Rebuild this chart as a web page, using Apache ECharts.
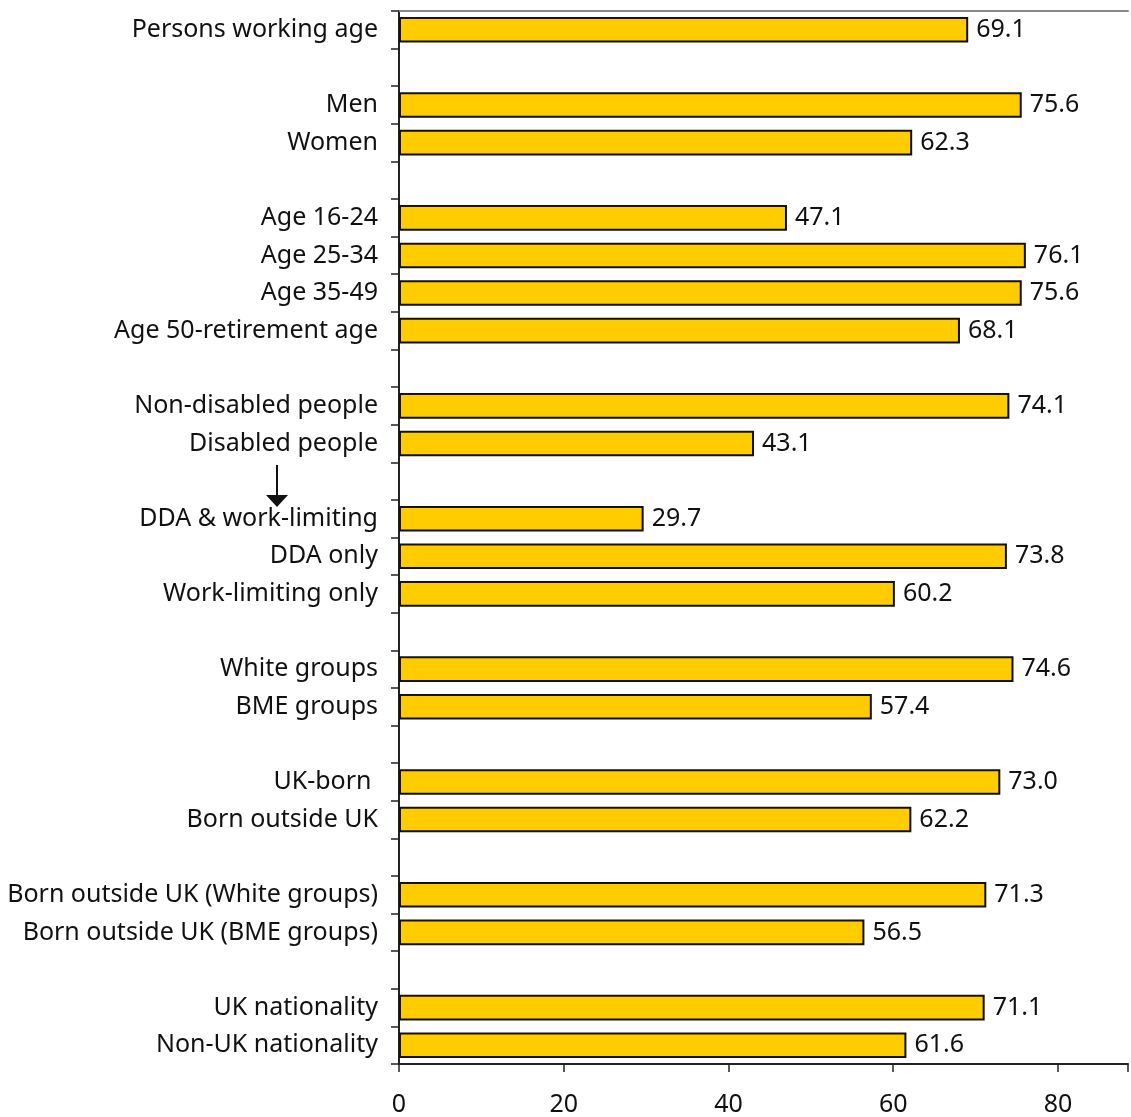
<!DOCTYPE html>
<html>
<head>
<meta charset="utf-8">
<script src="https://cdn.jsdelivr.net/npm/echarts@6/dist/echarts.min.js"></script>
<style>
html,body{margin:0;padding:0;background:#fff;}
#c{width:1131px;height:1117px;}
</style>
</head>
<body>
<div id="c"></div>
<script>
// Categories (empty strings are spacer rows between groups)
const categories = [
  'Persons working age', '',
  'Men', 'Women', '',
  'Age 16-24', 'Age 25-34', 'Age 35-49', 'Age 50-retirement age', '',
  'Non-disabled people', 'Disabled people', '',
  'DDA & work-limiting', 'DDA only', 'Work-limiting only', '',
  'White groups', 'BME groups', '',
  'UK-born ', 'Born outside UK', '',
  'Born outside UK (White groups)', 'Born outside UK (BME groups)', '',
  'UK nationality', 'Non-UK nationality'
];
const values = [
  69.1, null,
  75.6, 62.3, null,
  47.1, 76.1, 75.6, 68.1, null,
  74.1, 43.1, null,
  29.7, 73.8, 60.2, null,
  74.6, 57.4, null,
  73.0, 62.2, null,
  71.3, 56.5, null,
  71.1, 61.6
];
const xTicks = [0, 20, 40, 60, 80];

const FONT = 'Noto Sans';
const chart = echarts.init(document.getElementById('c'), null, {renderer: 'canvas'});
chart.setOption({
  animation: false,
  backgroundColor: '#fff',
  grid: {left: 399, right: 0, top: 11, bottom: 51, containLabel: false},
  xAxis: [{
    type: 'value', min: 0, max: 88.5, interval: 20, position: 'bottom',
    axisLine: {show: true, lineStyle: {color: '#222', width: 2}},
    axisTick: {show: true, length: 8, lineStyle: {color: '#222', width: 1.5}},
    axisLabel: {
      margin: 28, color: '#111', fontFamily: FONT, fontSize: 25,
      formatter: v => xTicks.indexOf(v) >= 0 ? String(v) : ''
    },
    splitLine: {show: false}
  }, {
    type: 'value', min: 0, max: 88.5, position: 'top',
    axisLine: {show: true, lineStyle: {color: '#888', width: 2}},
    axisTick: {show: false}, axisLabel: {show: false}, splitLine: {show: false}
  }],
  yAxis: {
    type: 'category', data: categories, inverse: true,
    axisLine: {show: true, lineStyle: {color: '#222', width: 2}},
    axisTick: {show: true, length: 8, alignWithLabel: false, lineStyle: {color: '#222', width: 1.5}},
    axisLabel: {margin: 21, color: '#111', fontFamily: FONT, fontSize: 25, interval: 0},
    splitLine: {show: false}
  },
  series: [{
    type: 'bar', data: values, barWidth: '68%', xAxisIndex: 0,
    itemStyle: {color: '#FFCC00', borderColor: '#111', borderWidth: 2},
    label: {
      show: true, position: 'right', distance: 8, color: '#111',
      fontFamily: FONT, fontSize: 25,
      formatter: p => p.value == null ? '' : Number(p.value).toFixed(1)
    }
  }],
  graphic: [{
    type: 'group',
    children: [
      {type: 'line', shape: {x1: 277, y1: 465, x2: 277, y2: 496}, style: {stroke: '#111', lineWidth: 2}},
      {type: 'polygon', shape: {points: [[266, 495], [288, 495], [277, 507]]}, style: {fill: '#111'}}
    ]
  }]
});
</script>
</body>
</html>
